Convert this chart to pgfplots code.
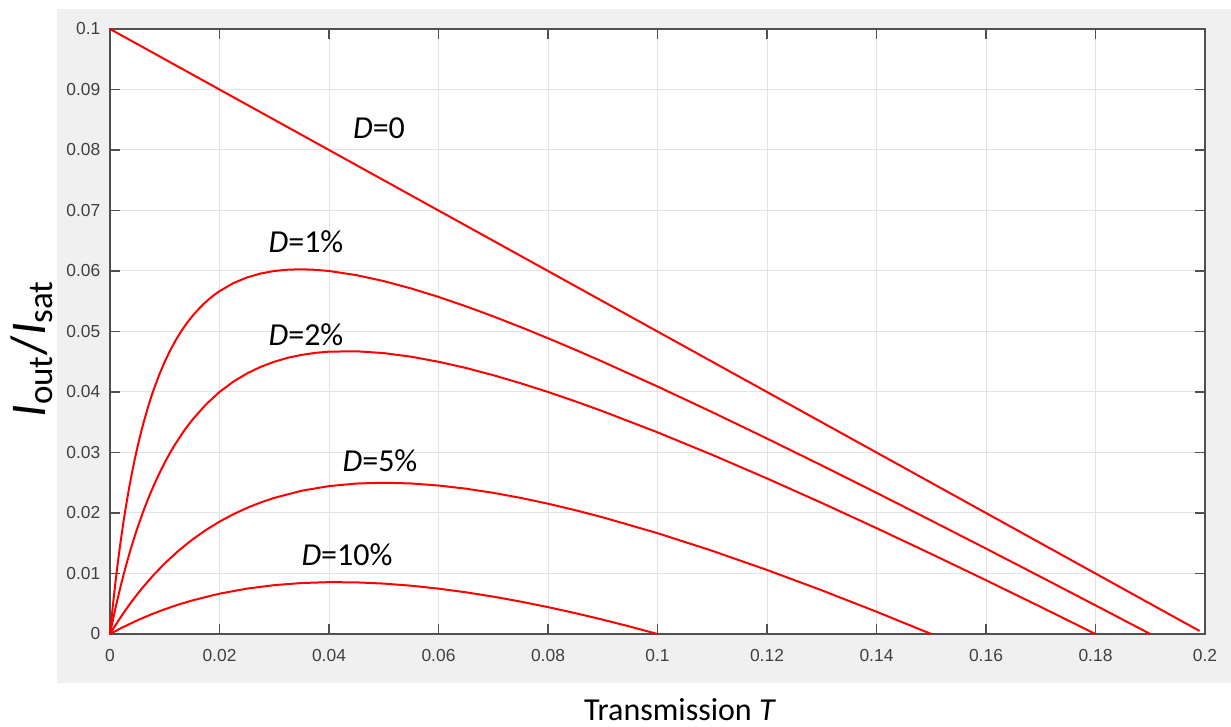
\documentclass[border=0pt]{standalone}
\usepackage{fontspec}
\setmainfont{Carlito}
\newfontfamily\arial{Liberation Sans}
\usepackage{pgfplots}
\pgfplotsset{compat=1.18}
\definecolor{bgGray}{HTML}{F0F0F0}
\definecolor{gridc}{HTML}{E3E3E3}
\definecolor{axc}{HTML}{505050}
\definecolor{tickc}{HTML}{404040}
\definecolor{curve}{HTML}{FF0000}
\tikzset{redcurve/.style={curve, line width=1pt, line join=round, no markers}}
\begin{document}
\begin{tikzpicture}
\useasboundingbox (-55pt,-46.5pt) rectangle (560.5pt,317pt);
\fill[bgGray] (-26.5pt,-24.5pt) rectangle (560.5pt,312.5pt);
\begin{axis}[
  at={(0,0)}, anchor=south west, scale only axis,
  width=547.5pt, height=302.5pt,
  xmin=0, xmax=0.2, ymin=0, ymax=0.1,
  xtick={0,0.02,0.04,0.06,0.08,0.1,0.12,0.14,0.16,0.18,0.2},
  xticklabels={0,0.02,0.04,0.06,0.08,0.1,0.12,0.14,0.16,0.18,0.2},
  ytick={0,0.01,0.02,0.03,0.04,0.05,0.06,0.07,0.08,0.09,0.1},
  yticklabels={0,0.01,0.02,0.03,0.04,0.05,0.06,0.07,0.08,0.09,0.1},
  axis background/.style={fill=white},
  grid=major,
  major grid style={color=gridc, line width=0.5pt},
  axis line style={color=axc, line width=0.6pt},
  tick style={color=axc, line width=0.6pt},
  major tick length=5pt,
  tick align=inside,
  ticklabel style={font=\arial\fontsize{8.7}{10}\selectfont, color=tickc},
  xticklabel style={yshift=-4.3pt},
  yticklabel style={xshift=-1.3pt},
  clip=false,
]
\addplot[redcurve] coordinates {(0,0.1) (0.199,0.0005)};
\addplot[redcurve] coordinates {
(0,0) (0.0005,0.004512) (0.001,0.008591) (0.0015,0.012293) (0.002,0.015667)
(0.0025,0.01875) (0.003,0.021577) (0.0035,0.024176) (0.004,0.026571)
(0.0045,0.028785) (0.005,0.030833) (0.0055,0.032734) (0.006,0.0345)
(0.007,0.037676) (0.0075,0.039107) (0.008,0.040444) (0.009,0.042868) (0.01,0.045)
(0.011,0.046881) (0.012,0.048545) (0.013,0.050022) (0.014,0.051333) (0.015,0.0525)
(0.016,0.053538) (0.017,0.054463) (0.018,0.055286) (0.019,0.056017) (0.02,0.056667)
(0.0225,0.057981) (0.025,0.058929) (0.0275,0.059583) (0.03,0.06) (0.0325,0.060221)
(0.035,0.060278) (0.0375,0.060197) (0.04,0.06) (0.045,0.059318) (0.05,0.058333)
(0.055,0.057115) (0.06,0.055714) (0.065,0.054167) (0.07,0.0525) (0.075,0.050735)
(0.08,0.048889) (0.085,0.046974) (0.09,0.045) (0.10,0.040909) (0.11,0.036667)
(0.12,0.032308) (0.13,0.027857) (0.14,0.023333) (0.15,0.01875) (0.16,0.014118)
(0.17,0.009444) (0.18,0.004737) (0.19,0)};
\addplot[redcurve] coordinates {
(0,0) (0.0005,0.002189) (0.001,0.004262) (0.0015,0.006227) (0.002,0.008091)
(0.0025,0.009861) (0.003,0.011543) (0.0035,0.013144) (0.004,0.014667)
(0.0045,0.016117) (0.005,0.0175) (0.006,0.020077) (0.007,0.022426) (0.008,0.024571)
(0.009,0.026534) (0.01,0.028333) (0.011,0.029984) (0.012,0.0315) (0.0135,0.033549)
(0.015,0.035357) (0.0175,0.037917) (0.02,0.04) (0.0225,0.041691) (0.025,0.043056)
(0.0275,0.044145) (0.03,0.045) (0.0325,0.045655) (0.035,0.046136) (0.0375,0.046467)
(0.04,0.046667) (0.045,0.046731) (0.05,0.046429) (0.055,0.045833) (0.06,0.045)
(0.065,0.043971) (0.07,0.042778) (0.075,0.041447) (0.08,0.04) (0.085,0.038452)
(0.09,0.036818) (0.10,0.033333) (0.11,0.029615) (0.12,0.025714) (0.13,0.021667)
(0.14,0.0175) (0.15,0.013235) (0.16,0.008889) (0.17,0.004474) (0.18,0)};
\addplot[redcurve] coordinates {
(0,0) (0.001,0.001461) (0.002,0.002846) (0.003,0.00416) (0.004,0.005407)
(0.005,0.006591) (0.006,0.007714) (0.008,0.009793) (0.01,0.011667) (0.0125,0.01375)
(0.015,0.015577) (0.0175,0.017176) (0.02,0.018571) (0.0225,0.019784) (0.025,0.020833)
(0.0275,0.021734) (0.03,0.0225) (0.035,0.023676) (0.04,0.024444) (0.045,0.024868)
(0.05,0.025) (0.055,0.024881) (0.06,0.024545) (0.065,0.024022) (0.07,0.023333)
(0.075,0.0225) (0.08,0.021538) (0.085,0.020463) (0.09,0.019286) (0.10,0.016667)
(0.11,0.01375) (0.12,0.010588) (0.13,0.007222) (0.14,0.003684) (0.15,0)};
\addplot[redcurve] coordinates {
(0,0) (0.002,0.000961) (0.005,0.002262) (0.0075,0.003227) (0.01,0.004091)
(0.0125,0.004861) (0.015,0.005543) (0.02,0.006667) (0.025,0.0075) (0.03,0.008077)
(0.035,0.008426) (0.04,0.008571) (0.045,0.008534) (0.05,0.008333) (0.055,0.007984)
(0.06,0.0075) (0.065,0.006894) (0.07,0.006176) (0.075,0.005357) (0.08,0.004444)
(0.085,0.003446) (0.09,0.002368) (0.095,0.001218) (0.1,0)};
\end{axis}
\begin{scope}[every node/.style={font=\fontsize{16}{19}\selectfont, inner sep=0pt, anchor=base}]
\node at (134.5pt,247.5pt) {\textit{D}=0};
\node at (98pt,190.5pt) {\textit{D}=1\%};
\node at (98pt,144pt) {\textit{D}=2\%};
\node at (135pt,81pt) {\textit{D}=5\%};
\node at (118.5pt,34pt) {\textit{D}=10\%};
\node at (285pt,-43.5pt) {Transmission \textit{T}};
\end{scope}
\node[rotate=90, font=\fontsize{25}{30}\selectfont, inner sep=0pt] at (-39pt,142.5pt)
  {\textit{I}\textsubscript{out}/\textit{I}\textsubscript{sat}};
\end{tikzpicture}
\end{document}
